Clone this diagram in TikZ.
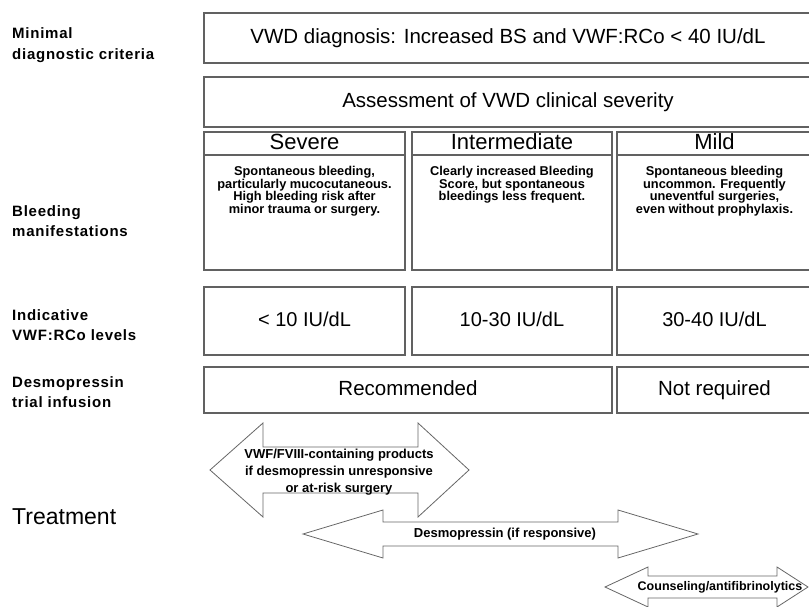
\documentclass[tikz,border=0pt]{standalone}
\usepackage{fontspec}
\setmainfont{Liberation Sans}
\usetikzlibrary{positioning}
\begin{document}
\begin{tikzpicture}[x=1pt,y=-1pt,
  box/.style={draw=black!62, line width=1.4pt, rectangle, inner sep=0pt, fill=white},
  big/.style={font=\fontsize{20.5}{23}\selectfont, text height=15pt, text depth=4pt},
  hdr/.style={font=\fontsize{22}{23}\selectfont, text height=16pt, text depth=4.5pt},
  lvl/.style={font=\fontsize{20}{22}\selectfont, text height=15pt, text depth=4pt},
  lab/.style={font=\fontsize{15}{20.5}\selectfont\bfseries\addfontfeature{LetterSpace=5}, align=left, anchor=west, inner sep=0pt},
  small/.style={font=\fontsize{12.8}{12.5}\selectfont\bfseries, align=center, inner sep=0pt},
  atext/.style={font=\fontsize{13}{16.8}\selectfont\bfseries, align=center, inner sep=0pt},
  arr/.style={draw=black!60, line width=0.8pt, fill=white, line join=miter}]
\useasboundingbox (0,0) rectangle (809,607);

% left labels
\node[lab] (l1) at (12,45) {Minimal\\diagnostic criteria};
\node[lab] (l2) at (12,221) {Bleeding\\manifestations};
\node[lab] (l3) at (12,325) {Indicative\\VWF:RCo levels};
\node[lab] (l4) at (12,392) {Desmopressin\\trial infusion};
\node[anchor=west, inner sep=0pt, font=\fontsize{23}{26}\selectfont] (l5) at (12,517) {Treatment};

% top boxes
\node[box, big, minimum width=608pt, minimum height=50pt] (diag) at (508,38) {VWD diagnosis: Increased BS and VWF:RCo < 40 IU/dL};
\node[box, big, minimum width=608pt, minimum height=50pt] (assess) at (508,102) {Assessment of VWD clinical severity};

% severity columns
\node[box, hdr, minimum width=201pt, minimum height=23pt] (sevh) at (304.5,143.5) {Severe};
\node[box, minimum width=201pt, minimum height=115pt] (sevb) at (304.5,212.5) {};
\node[small, anchor=north] (sevt) at ([yshift=-12pt]sevb.north) {Spontaneous bleeding,\\particularly mucocutaneous.\\High bleeding risk after\\minor trauma or surgery.};

\node[box, hdr, minimum width=200pt, minimum height=23pt] (inth) at (512,143.5) {Intermediate};
\node[box, minimum width=200pt, minimum height=115pt] (intb) at (512,212.5) {};
\node[small, anchor=north] (intt) at ([yshift=-12pt]intb.north) {Clearly increased Bleeding\\Score, but spontaneous\\bleedings less frequent.};

\node[box, hdr, minimum width=195pt, minimum height=23pt] (milh) at (714.5,143.5) {Mild};
\node[box, minimum width=195pt, minimum height=115pt] (milb) at (714.5,212.5) {};
\node[small, anchor=north] (milt) at ([yshift=-12pt]milb.north) {Spontaneous bleeding\\uncommon. Frequently\\uneventful surgeries,\\even without prophylaxis.};

% levels
\node[box, lvl, minimum width=201pt, minimum height=68pt] (lv1) at (304.5,321) {< 10 IU/dL};
\node[box, lvl, minimum width=200pt, minimum height=68pt] (lv2) at (512,321) {10-30 IU/dL};
\node[box, lvl, minimum width=195pt, minimum height=68pt] (lv3) at (714.5,321) {30-40 IU/dL};

% desmopressin trial
\node[box, big, minimum width=408pt, minimum height=46pt] (rec) at (408,390) {Recommended};
\node[box, big, minimum width=195pt, minimum height=46pt] (notreq) at (714.5,390) {Not required};

% treatment arrows
\draw[arr] (210,470) -- (263,423) -- (263,447) -- (418,447) -- (418,423) -- (469,470)
  -- (418,517) -- (418,493) -- (263,493) -- (263,517) -- cycle;
\node[atext] (a1) at (339,472) {VWF/FVIII-containing products\\if desmopressin unresponsive\\or at-risk surgery};

\draw[arr] (303,534) -- (383,510) -- (383,522) -- (618,522) -- (618,510) -- (698,534)
  -- (618,558) -- (618,546) -- (383,546) -- (383,558) -- cycle;
\node[atext] (a2) at (505,534) {Desmopressin (if responsive)};

\draw[arr] (605,587) -- (648,567) -- (648,576) -- (777,576) -- (777,567) -- (808,587)
  -- (777,607) -- (777,598) -- (648,598) -- (648,607) -- cycle;
\node[atext, font=\fontsize{12.5}{15}\selectfont\bfseries] (a3) at (720,587) {Counseling/antifibrinolytics};
\end{tikzpicture}
\end{document}
